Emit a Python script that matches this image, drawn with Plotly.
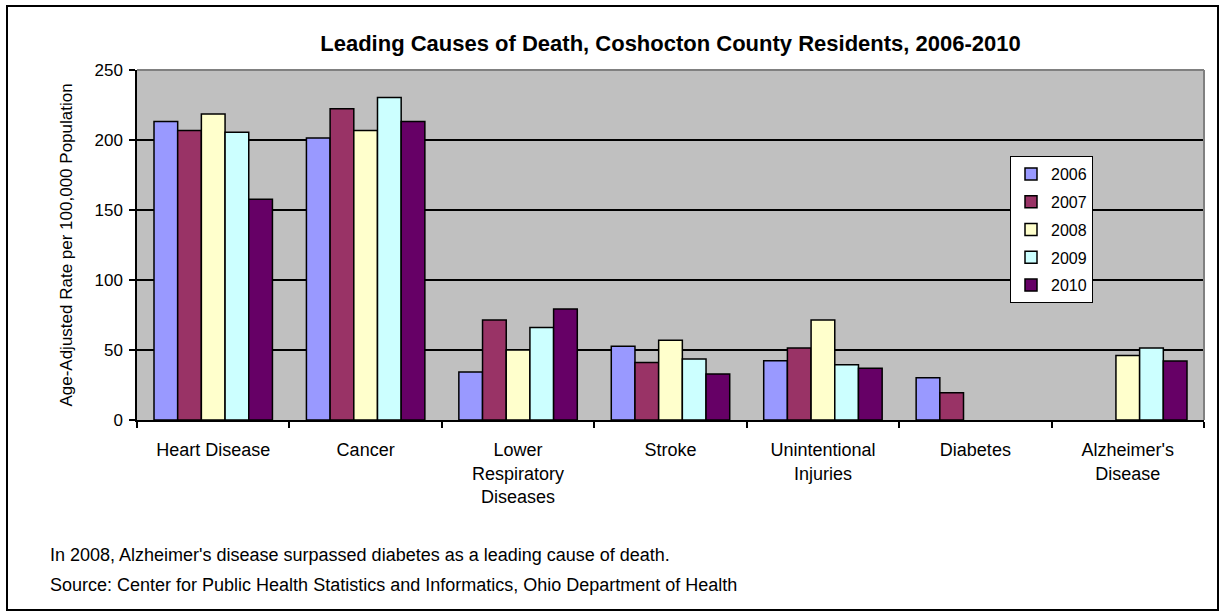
import plotly.graph_objects as go

categories = ["Heart Disease", "Cancer", "Lower Respiratory Diseases", "Stroke",
              "Unintentional Injuries", "Diabetes", "Alzheimer's Disease"]
tick_labels = ["Heart Disease", "Cancer", "Lower<br>Respiratory<br>Diseases", "Stroke",
               "Unintentional<br>Injuries", "Diabetes", "Alzheimer's<br>Disease"]
years = ["2006", "2007", "2008", "2009", "2010"]
rate_2006 = [213.3, 201.4, 34.3, 52.6, 42.4, 30.2, None]
rate_2007 = [206.7, 222.4, 71.4, 41.0, 51.4, 19.5, None]
rate_2008 = [218.6, 206.7, 50.0, 56.9, 71.4, None, 46.0]
rate_2009 = [205.5, 230.3, 66.0, 43.6, 39.5, None, 51.4]
rate_2010 = [157.6, 213.3, 79.3, 32.9, 36.9, None, 42.1]
series = [rate_2006, rate_2007, rate_2008, rate_2009, rate_2010]
colors = ["#9999FF", "#993366", "#FFFFCC", "#CCFFFF", "#660066"]

FONT = "Liberation Sans, Arial, sans-serif"

fig = go.Figure()
for yr, vals, col in zip(years, series, colors):
    fig.add_trace(go.Bar(
        name=yr, x=categories, y=vals, legendgroup=yr,
        marker=dict(color=col, line=dict(color="black", width=1.5)),
    ))

W, H = 1221, 616
L, R, T, B = 137, 17, 70, 196
pw, ph = W - L - R, H - T - B

def px(x):
    return (x - L) / pw

def py(y):
    return (H - B - y) / ph

fig.update_layout(
    width=W, height=H,
    margin=dict(l=L, r=R, t=T, b=B, autoexpand=False),
    paper_bgcolor="white", plot_bgcolor="#C0C0C0",
    font=dict(family=FONT, color="black", size=16),
    barmode="group", bargap=0.223, bargroupgap=0,
    title=dict(text="<b>Leading Causes of Death, Coshocton County Residents, 2006-2010</b>",
               font=dict(size=22, family=FONT, color="black"),
               x=0.5, xref="paper", xanchor="center",
               y=1 - 43 / H, yref="container", yanchor="middle"),
    legend=dict(x=px(1010), y=py(156), xanchor="left", yanchor="top",
                bgcolor="white", bordercolor="black", borderwidth=1,
                font=dict(size=16, family=FONT), traceorder="grouped",
                tracegroupgap=4, itemwidth=30),
    xaxis=dict(type="category", tickmode="array", tickvals=categories, ticktext=tick_labels,
               tickson="boundaries", ticks="outside", ticklen=6, tickcolor="black",
               tickwidth=1.5, showline=True, linecolor="black", linewidth=1.5,
               tickfont=dict(size=18, family=FONT), ticklabelstandoff=13,
               showgrid=False, automargin=False),
    yaxis=dict(range=[0, 250], dtick=50, ticks="outside", ticklen=6, tickcolor="black",
               tickwidth=1.5, showline=True, linecolor="black", linewidth=1.5,
               gridcolor="black", gridwidth=1.5, zeroline=False,
               tickfont=dict(size=17, family=FONT), ticklabelstandoff=3,
               title=dict(text="Age-Adjusted Rate per 100,000 Population",
                          font=dict(size=17, family=FONT), standoff=18),
               automargin=False),
    shapes=[
        dict(type="line", xref="paper", yref="paper", x0=0, x1=1, y0=1, y1=1,
             line=dict(color="#808080", width=2), layer="above"),
        dict(type="line", xref="paper", yref="paper", x0=1, x1=1, y0=0, y1=1,
             line=dict(color="#808080", width=2), layer="above"),
        dict(type="rect", xref="paper", yref="paper", x0=px(7), x1=px(1218),
             y0=py(610), y1=py(6), line=dict(color="black", width=2), layer="above"),
    ],
    annotations=[
        dict(text="In 2008, Alzheimer's disease surpassed diabetes as a leading cause of death.",
             xref="paper", yref="paper", x=px(48), y=py(555), xanchor="left", yanchor="middle",
             showarrow=False, font=dict(size=18, family=FONT)),
        dict(text="Source: Center for Public Health Statistics and Informatics, Ohio Department of Health",
             xref="paper", yref="paper", x=px(48), y=py(585), xanchor="left", yanchor="middle",
             showarrow=False, font=dict(size=18, family=FONT)),
    ],
)

fig.write_html("out.html", config={"displayModeBar": False},
               post_script="document.body.style.margin='0';")
